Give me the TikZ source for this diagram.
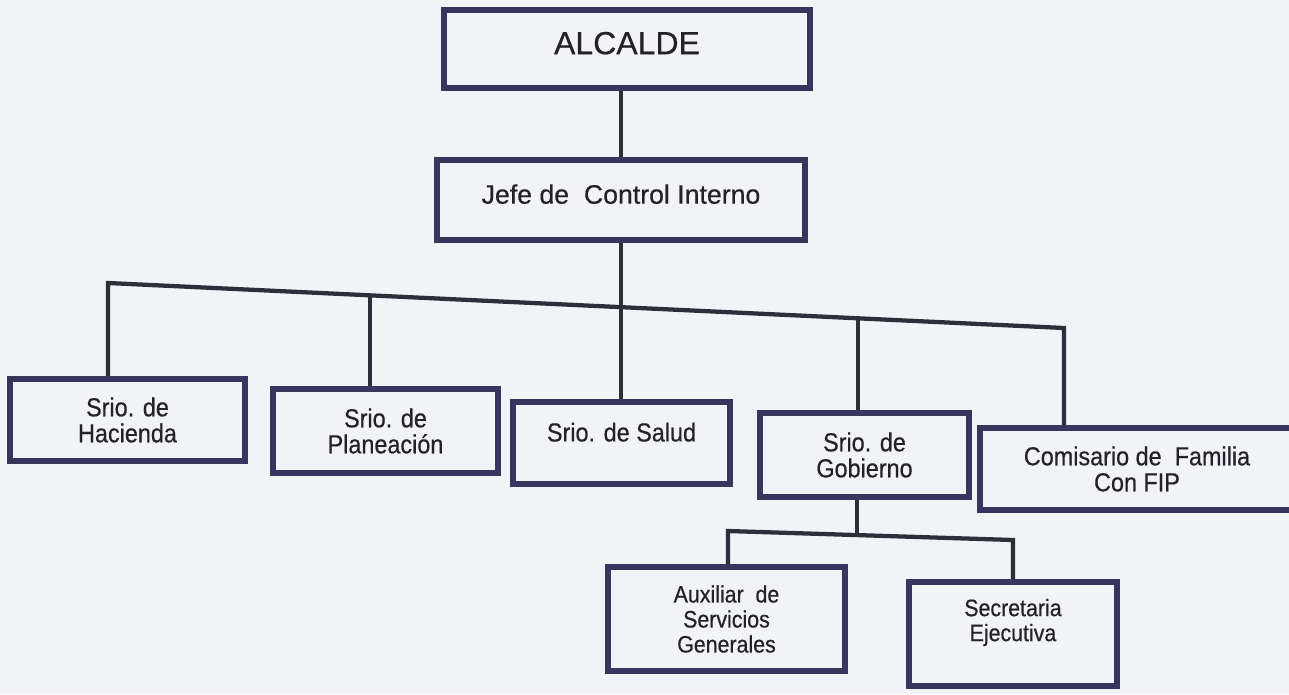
\documentclass[tikz,border=0pt]{standalone}
\usepackage{fontspec}
\setmainfont{Liberation Sans}
\newfontfamily\escan[FakeStretch=0.9,FakeBold=0.5]{Liberation Sans}
\newfontfamily\escanancho[FakeBold=0.5]{Liberation Sans}
\definecolor{papel}{RGB}{241,243,247}
\definecolor{borde}{RGB}{56,54,94}
\definecolor{trazo}{RGB}{46,46,56}
\definecolor{tinta}{RGB}{34,34,40}

\begin{document}
\begin{tikzpicture}[x=0.75pt,y=0.75pt,yscale=-1,xscale=1,
  cargo/.style={draw=borde,line width=4.5pt,align=center,inner sep=0pt,text=tinta},
  tam/.style 2 args={minimum width=0.75pt*#1,minimum height=0.75pt*#2},
  subir/.style={text depth=#1},
  enlace/.style={draw=trazo,line width=3.2pt,line join=miter},
  grande/.style={font=\escanancho\fontsize{24}{28}\selectfont},
  medio/.style={font=\escanancho\fontsize{20}{24}\selectfont},
  normal/.style={font=\escan\fontsize{19.5}{19.5}\selectfont},
  chico/.style={font=\escan\fontsize{17.8}{18.75}\selectfont}]
%set diagram to the 1289 x 694 page
\fill [papel] (0,0) rectangle (1289,694);
\useasboundingbox (0,0) rectangle (1289,694);

% Cargos
\node (alcalde) [cargo,grande,tam={366}{78},subir=9pt] at (627,49) {ALCALDE};
\node (jefe) [cargo,medio,tam={368}{80},subir=9pt] at (621,200) {Jefe de \ Control Interno};

\node (hacienda) [cargo,normal,tam={235}{82}] at (127.5,420) {Srio. de\\Hacienda};
\node (planeacion) [cargo,normal,tam={225}{84}] at (385.5,431) {Srio. de\\Planeación};
\node (salud) [cargo,normal,tam={217}{82},subir=16.5pt] at (621.5,443) {Srio. de Salud};
\node (gobierno) [cargo,normal,tam={209}{84}] at (864.5,455) {Srio. de\\Gobierno};
\node (comisario) [cargo,normal,tam={314}{82}] at (1137,469) {Comisario de \ Familia\\Con FIP};

\node (auxiliar) [cargo,chico,tam={237}{104}] at (726.5,619) {Auxiliar \ de\\Servicios\\Generales};
\node (secretaria) [cargo,chico,tam={208}{104},subir=21pt] at (1013,634) {Secretaria\\Ejecutiva};

% puntos de las barras
\coordinate (b1) at (108,283);
\coordinate (b2) at (370,295);
\coordinate (b3) at (621,307);
\coordinate (b4) at (858,318);
\coordinate (b5) at (1064,328);
\coordinate (g1) at (728,531);
\coordinate (g2) at (857,535);
\coordinate (g3) at (1013,540);

%Straight Lines
\draw [enlace] (alcalde.south -| jefe.north) -- (jefe.north);
\draw [enlace] (jefe.south) -- (b3);
\draw [enlace] (b1 |- hacienda.north) -- (b1) -- (b5) -- (b5 |- comisario.north);
\draw [enlace] (b2) -- (b2 |- planeacion.north);
\draw [enlace] (b3) -- (b3 |- salud.north);
\draw [enlace] (b4) -- (b4 |- gobierno.north);
%Straight Lines (Gobierno)
\draw [enlace] (gobierno.south -| g2) -- (g2);
\draw [enlace] (g1 |- auxiliar.north) -- (g1) -- (g3) -- (g3 |- secretaria.north);

\end{tikzpicture}
\end{document}
